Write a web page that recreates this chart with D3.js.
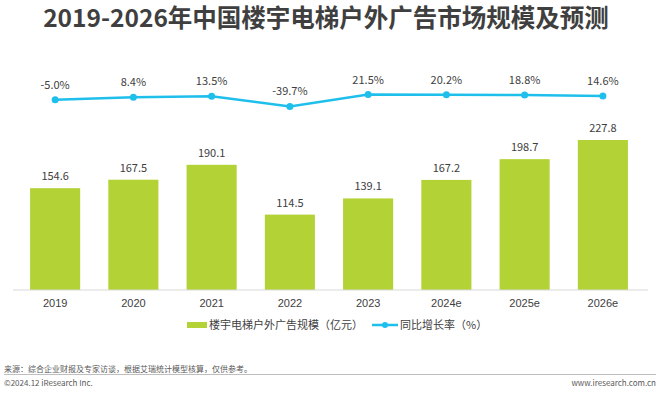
<!DOCTYPE html>
<html><head><meta charset="utf-8">
<script src="https://cdn.jsdelivr.net/npm/d3@7"></script>
<style>body{margin:0;background:#fff;}svg{display:block;font-family:"Microsoft YaHei","Noto Sans CJK SC","Noto Sans",sans-serif;}</style>
</head><body><svg id="c" width="660" height="394"></svg>
<script>
const categories = ["2019","2020","2021","2022","2023","2024e","2025e","2026e"];
const marketSize = [154.6,167.5,190.1,114.5,139.1,167.2,198.7,227.8];
const growthRate = [-5.0,8.4,13.5,-39.7,21.5,20.2,18.8,14.6];
const title = "2019-2026年中国楼宇电梯户外广告市场规模及预测";
const legendBar = "楼宇电梯户外广告规模（亿元）";
const legendLine = "同比增长率（%）";
const source = "来源：综合企业财报及专家访谈，根据艾瑞统计模型核算，仅供参考。";
const copyright = "©2024.12 iResearch Inc.";
const website = "www.iresearch.com.cn";

const svg = d3.select("#c");
const green = "#b2d235", blue = "#1fbfec", txt = "#404040";

svg.append("text").attr("x",326).attr("y",27).attr("text-anchor","middle")
  .attr("font-size",24.5).attr("font-weight","bold").attr("fill","#3f3f3f").text(title);

const x = d3.scaleBand().domain(categories).range([16,642]).paddingInner(0.36).paddingOuter(0.18);
const y = d3.scaleLinear().domain([0,227.8]).range([290,140]);
const yl = d3.scaleLinear().domain([-39.7,21.5]).range([106.4,94.6]);

svg.append("g").selectAll("rect").data(marketSize).join("rect")
  .attr("x",(d,i)=>x(categories[i])).attr("y",d=>y(d))
  .attr("width",x.bandwidth()).attr("height",d=>y(0)-y(d)).attr("fill",green);

svg.append("g").selectAll("text").data(marketSize).join("text")
  .attr("x",(d,i)=>x(categories[i])+x.bandwidth()/2).attr("y",d=>y(d)-8)
  .attr("text-anchor","middle").attr("font-size",11).attr("fill",txt).text(d=>d.toFixed(1));

const xAxis = d3.axisBottom(x).tickSize(0).tickPadding(9);
const gx = svg.append("g").attr("transform","translate(0,290)").call(xAxis);
gx.select(".domain").attr("d","M13,0H648").attr("stroke","#d9d9d9").attr("stroke-width",1);
gx.selectAll("text").attr("font-size",11).attr("fill",txt).attr("font-family","inherit");

const cx = (d,i)=>x(categories[i])+x.bandwidth()/2;
svg.append("path").datum(growthRate)
  .attr("d",d3.line().x(cx).y(d=>yl(d)))
  .attr("fill","none").attr("stroke",blue).attr("stroke-width",2.5);
svg.append("g").selectAll("circle").data(growthRate).join("circle")
  .attr("cx",cx).attr("cy",d=>yl(d)).attr("r",3.5).attr("fill",blue);
svg.append("g").selectAll("text").data(growthRate).join("text")
  .attr("x",cx).attr("y",d=>yl(d)-11).attr("text-anchor","middle")
  .attr("font-size",11).attr("fill",txt).text(d=>d.toFixed(1)+"%");

// legend
const lg = svg.append("g");
lg.append("rect").attr("x",187).attr("y",322).attr("width",20).attr("height",6).attr("fill",green);
lg.append("text").attr("x",209).attr("y",329).attr("font-size",11).attr("fill",txt).text(legendBar);
lg.append("line").attr("x1",372).attr("x2",398).attr("y1",325).attr("y2",325).attr("stroke",blue).attr("stroke-width",2.5);
lg.append("circle").attr("cx",385).attr("cy",325).attr("r",3).attr("fill",blue);
lg.append("text").attr("x",400).attr("y",329).attr("font-size",11).attr("fill",txt).text(legendLine);

// footer
svg.append("text").attr("x",4).attr("y",372).attr("font-size",8).attr("fill","#595959").text(source);
svg.append("line").attr("x1",4).attr("x2",656).attr("y1",374.5).attr("y2",374.5).attr("stroke","#bfbfbf").attr("stroke-width",1);
svg.append("text").attr("x",4).attr("y",386).attr("font-size",8).attr("fill","#595959").text(copyright);
svg.append("text").attr("x",656).attr("y",386).attr("text-anchor","end").attr("font-size",8).attr("fill","#595959").text(website);
</script></body></html>
